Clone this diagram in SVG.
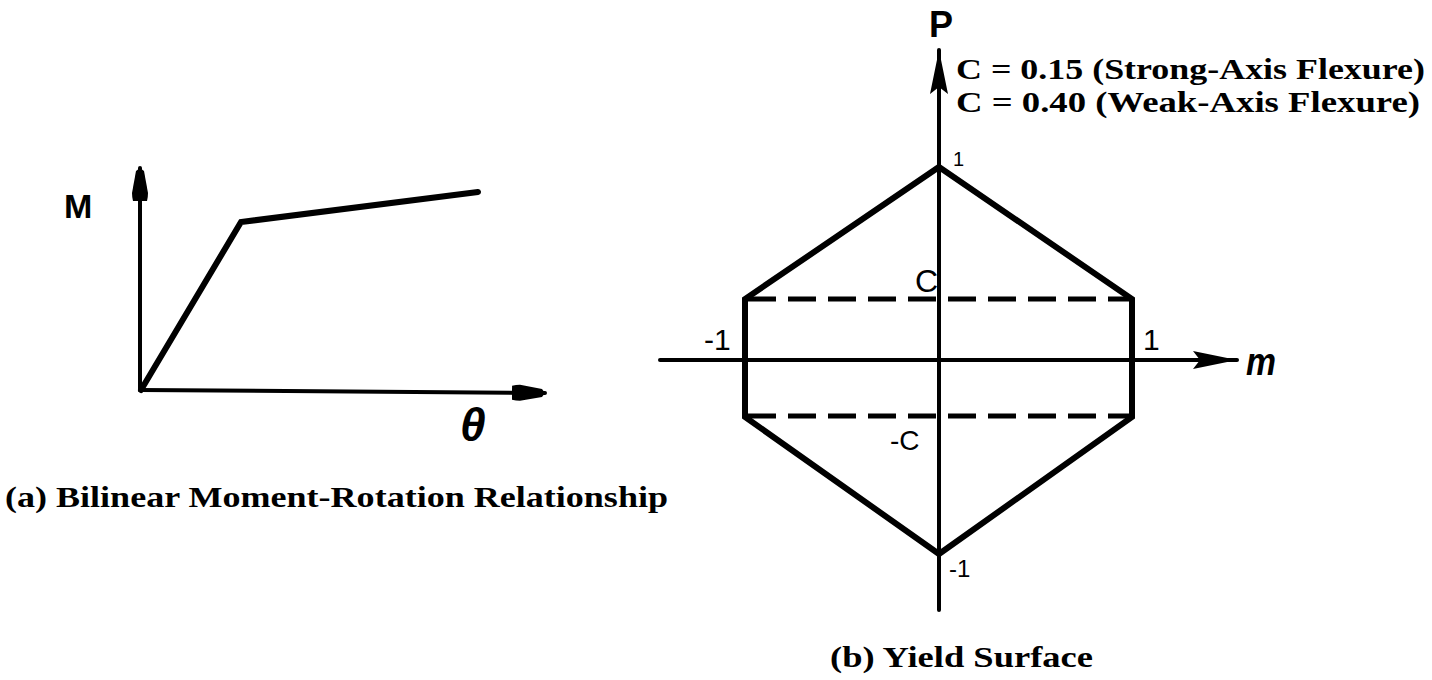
<svg xmlns="http://www.w3.org/2000/svg" width="1432" height="680" viewBox="0 0 1432 680">
<style>
.ax{fill:none;stroke:#000;stroke-width:4;stroke-linecap:round}
.cv{fill:none;stroke:#000;stroke-width:6;stroke-linejoin:miter;stroke-linecap:round}
.dash{fill:none;stroke:#000;stroke-width:5;stroke-dasharray:28 12}
.lab{font-family:"Liberation Sans","DejaVu Sans",sans-serif;fill:#000}
.cap{font-family:"Liberation Serif","DejaVu Serif",serif;font-weight:bold;fill:#000}
</style>
<defs>
<marker id="arrR" markerUnits="userSpaceOnUse" viewBox="0 -10 44 20" refX="44" refY="0" markerWidth="44" markerHeight="20" orient="auto">
<path d="M0,-9 L44,0 L0,9 L7,0 z" fill="#000"/>
</marker>
<marker id="arrL" markerUnits="userSpaceOnUse" viewBox="0 -9 34 18" refX="33" refY="0" markerWidth="34" markerHeight="18" orient="auto">
<path d="M0,-7 Q4,-8 8,-8 L30,-4 Q34,0 30,4 L8,8 Q4,8 0,7 z" fill="#000"/>
</marker>
</defs>
<g id="connectors">
<line class="ax" x1="140" y1="390" x2="140" y2="168" marker-end="url(#arrL)"/>
<line class="ax" x1="140" y1="390" x2="545" y2="393" marker-end="url(#arrL)"/>
<line class="ax" x1="939" y1="610" x2="939" y2="50" marker-end="url(#arrR)"/>
<line class="ax" x1="660" y1="360" x2="1237" y2="360" marker-end="url(#arrR)"/>
</g>
<g id="bilinear-curve">
<polyline class="cv" points="141,390 241,222 478,192"/>
</g>
<g id="yield-surface">
<polygon class="cv" points="939,167 1132,299 1132,417 939,554 745,417 745,299"/>
<line class="dash" x1="748" y1="299" x2="1130" y2="299"/>
<line class="dash" x1="748" y1="416" x2="1130" y2="416"/>
</g>
<g id="labels-a">
<text class="lab" x="64" y="218" font-size="34" font-weight="bold">M</text>
<text class="lab" x="460" y="441" font-size="46" font-weight="bold" font-style="italic">θ</text>
<text class="cap" x="5" y="507" font-size="30" textLength="663" lengthAdjust="spacingAndGlyphs">(a) Bilinear Moment-Rotation Relationship</text>
</g>
<g id="labels-b">
<text class="lab" x="929" y="37" font-size="36" font-weight="bold">P</text>
<text class="cap" x="956" y="79" font-size="30" textLength="469" lengthAdjust="spacingAndGlyphs">C = 0.15 (Strong-Axis Flexure)</text>
<text class="cap" x="956" y="112" font-size="30" textLength="464" lengthAdjust="spacingAndGlyphs">C = 0.40 (Weak-Axis Flexure)</text>
<text class="lab" x="953" y="166" font-size="20">1</text>
<text class="lab" x="915" y="292" font-size="32">C</text>
<text class="lab" x="890" y="450" font-size="28">-C</text>
<text class="lab" x="704" y="350" font-size="30">-1</text>
<text class="lab" x="1143" y="350" font-size="30">1</text>
<text class="lab" x="949" y="577" font-size="24">-1</text>
<text class="lab" x="1246" y="375" font-size="38" font-weight="bold" font-style="italic" textLength="30" lengthAdjust="spacingAndGlyphs">m</text>
<text class="cap" x="830" y="667" font-size="30" textLength="263" lengthAdjust="spacingAndGlyphs">(b) Yield Surface</text>
</g>
</svg>
